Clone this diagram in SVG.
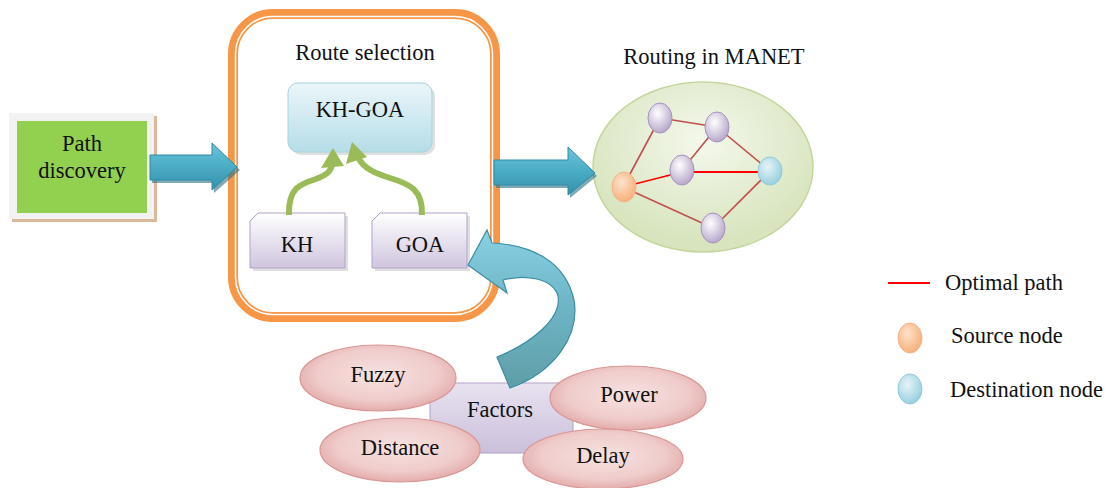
<svg xmlns="http://www.w3.org/2000/svg" width="1108" height="488" viewBox="0 0 1108 488">
<defs>
<linearGradient id="gBlue" x1="0" y1="0" x2="0" y2="1"><stop offset="0" stop-color="#6cc3da"/><stop offset="0.5" stop-color="#4bacc6"/><stop offset="1" stop-color="#3590a9"/></linearGradient>
<linearGradient id="gCurve" x1="0" y1="0" x2="0" y2="1"><stop offset="0" stop-color="#8ad0e3"/><stop offset="0.45" stop-color="#6fb6c8"/><stop offset="1" stop-color="#5f9ea7"/></linearGradient>
<linearGradient id="gCyan" x1="0" y1="0" x2="0" y2="1"><stop offset="0" stop-color="#eaf6f9"/><stop offset="1" stop-color="#b6dde8"/></linearGradient>
<linearGradient id="gPurple" x1="0" y1="0" x2="0" y2="1"><stop offset="0" stop-color="#ffffff"/><stop offset="1" stop-color="#cfc5de"/></linearGradient>
<linearGradient id="gFactors" x1="0" y1="0" x2="0" y2="1"><stop offset="0" stop-color="#e8e2f0"/><stop offset="1" stop-color="#cbbfdb"/></linearGradient>
<radialGradient id="gPink" cx="0.5" cy="0.45" r="0.55"><stop offset="0" stop-color="#f6e2e1"/><stop offset="0.7" stop-color="#efcccb"/><stop offset="1" stop-color="#e3adac"/></radialGradient>
<radialGradient id="gGreenEl" cx="0.5" cy="0.35" r="0.6"><stop offset="0" stop-color="#f4f8ec"/><stop offset="1" stop-color="#d7e4bd"/></radialGradient>
<radialGradient id="gNode" cx="0.4" cy="0.35" r="0.7"><stop offset="0" stop-color="#ffffff"/><stop offset="1" stop-color="#b3a2c7"/></radialGradient>
<radialGradient id="gSrc" cx="0.4" cy="0.35" r="0.7"><stop offset="0" stop-color="#fde2cc"/><stop offset="1" stop-color="#f6ad76"/></radialGradient>
<radialGradient id="gDst" cx="0.4" cy="0.35" r="0.7"><stop offset="0" stop-color="#e6f4f8"/><stop offset="1" stop-color="#93cddd"/></radialGradient>
</defs>
<style>
text{font-family:"Liberation Serif","Times New Roman",serif;font-size:22.5px;fill:#111111;text-anchor:middle}
.lg{text-anchor:start}
.edge{stroke:#c0504d;stroke-width:1.6;fill:none}
.opt{stroke:#ff0000;stroke-width:1.8;fill:none}
.node{fill:url(#gNode);stroke:#a592c0;stroke-width:1}
.pink{fill:url(#gPink);stroke:#d99694;stroke-width:1.2}
.doc{fill:url(#gPurple);stroke:#b3a2c7;stroke-width:1}
.garrow{stroke:#9bbb59;stroke-width:6;fill:none}
.ghead{fill:#9bbb59}
.barrow{fill:url(#gBlue);stroke:#2f8aa3;stroke-width:1}
.shadow{fill:#2a6f82;opacity:0.6}
</style>

<g id="path-discovery">
<rect x="12" y="116" width="145" height="106" fill="#d9b89b"/>
<rect x="9" y="113" width="145" height="106" fill="#f2f2f2"/>
<rect x="17" y="121" width="130" height="92" fill="#92d050"/>
<text x="82" y="151">Path</text>
<text x="82" y="178">discovery</text>
</g>

<g id="route-selection">
<rect x="233" y="14" width="262" height="303" rx="40" fill="#ffffff" stroke="#f79646" stroke-width="10"/>
<rect x="235.5" y="16.5" width="257" height="298" rx="37.5" fill="none" stroke="#ffffff" stroke-width="1.5"/>
<text x="365" y="60">Route selection</text>
</g>

<g id="kh-goa">
<rect x="291" y="86" width="144" height="69" rx="10" fill="#c9c9c9" opacity="0.6"/>
<rect x="288" y="83" width="144" height="69" rx="10" fill="url(#gCyan)" stroke="#a5d3e0" stroke-width="1"/>
<text x="360" y="117">KH-GOA</text>
</g>

<g id="kh">
<path d="M 261 216 L 348 216 L 348 271 L 253 271 L 253 224 Z" fill="#c9c9c9" opacity="0.6"/>
<path d="M 258 213 L 345 213 L 345 268 L 250 268 L 250 221 Z" class="doc"/>
<text x="297" y="252">KH</text>
</g>

<g id="goa">
<path d="M 383 216 L 470 216 L 470 271 L 375 271 L 375 224 Z" fill="#c9c9c9" opacity="0.6"/>
<path d="M 380 213 L 467 213 L 467 268 L 372 268 L 372 221 Z" class="doc"/>
<text x="420" y="252">GOA</text>
</g>

<g id="routing-manet">
<text x="714" y="64">Routing in MANET</text>
<ellipse cx="703" cy="167" rx="110" ry="85" fill="url(#gGreenEl)" stroke="#c3d69b" stroke-width="1.5"/>
</g>

<g id="legend">
<line x1="888" y1="283" x2="930" y2="283" class="opt"/>
<text x="945" y="290" class="lg">Optimal path</text>
<ellipse cx="910" cy="338" rx="12" ry="15" fill="url(#gSrc)" stroke="#f2b48a" stroke-width="1"/>
<text x="951" y="343" class="lg">Source node</text>
<ellipse cx="910" cy="389" rx="12" ry="15" fill="url(#gDst)" stroke="#92c9d9" stroke-width="1"/>
<text x="950" y="397" class="lg">Destination node</text>
</g>

<g id="factors">
<rect x="430" y="383" width="143" height="70" fill="url(#gFactors)" stroke="#b3a2c7" stroke-width="1"/>
<text x="500" y="417">Factors</text>
</g>

<g id="fuzzy">
<ellipse cx="378" cy="378" rx="78" ry="33" class="pink"/>
<text x="378" y="382">Fuzzy</text>
</g>
<g id="distance">
<ellipse cx="400" cy="450" rx="80" ry="32" class="pink"/>
<text x="400" y="455">Distance</text>
</g>
<g id="power">
<ellipse cx="628" cy="398" rx="78" ry="32" class="pink"/>
<text x="629" y="402">Power</text>
</g>
<g id="delay">
<ellipse cx="603" cy="459" rx="80" ry="30" class="pink"/>
<text x="603" y="463">Delay</text>
</g>

<g id="connectors">
<polygon class="shadow" points="152,158 214,158 214,146 240,170 214,193 214,183 152,183"/>
<polygon class="barrow" points="150,155 212,155 212,143 237,167 212,190 212,180 150,180"/>
<polygon class="shadow" points="496,163 570,163 570,150 597,176 570,198 570,188 496,188"/>
<polygon class="barrow" points="494,160 568,160 568,147 595,173 568,195 568,185 494,185"/>

<path class="garrow" d="M 289 215 C 288 188, 300 184, 316 179 C 327 175, 331 171, 332 165"/>
<polygon class="ghead" points="333,148 321,168 344,166"/>
<path class="garrow" d="M 422 215 C 423 190, 410 184, 390 178 C 374 173, 364 168, 359 159"/>
<polygon class="ghead" points="352,142 346,164 367,157"/>

<path d="M 468 265 L 487 230 L 492 243 C 530 245, 565 260, 574 300 C 580 335, 555 372, 510 388 L 497 357 C 532 343, 562 318, 558 296 C 553 278, 525 274, 503 280 L 507 293 Z" fill="url(#gCurve)" stroke="#3b8ea3" stroke-width="1.2"/>

<line x1="623" y1="187" x2="660" y2="118" class="edge"/>
<line x1="660" y1="118" x2="717" y2="127" class="edge"/>
<line x1="717" y1="127" x2="770" y2="171" class="edge"/>
<line x1="717" y1="127" x2="682" y2="170" class="edge"/>
<line x1="623" y1="187" x2="713" y2="228" class="edge"/>
<line x1="713" y1="228" x2="770" y2="171" class="edge"/>
<line x1="623" y1="187" x2="682" y2="172" class="opt"/>
<line x1="682" y1="172" x2="770" y2="172" class="opt"/>
</g>

<g id="manet-nodes">
<ellipse cx="660" cy="118" rx="12" ry="15" class="node"/>
<ellipse cx="717" cy="127" rx="12" ry="15" class="node"/>
<ellipse cx="682" cy="170" rx="12" ry="15" class="node"/>
<ellipse cx="713" cy="228" rx="12" ry="15" class="node"/>
<ellipse cx="624" cy="187" rx="12" ry="15" fill="url(#gSrc)" stroke="#f2b48a" stroke-width="1"/>
<ellipse cx="770" cy="171" rx="12" ry="14" fill="url(#gDst)" stroke="#92c9d9" stroke-width="1"/>
</g>
</svg>
